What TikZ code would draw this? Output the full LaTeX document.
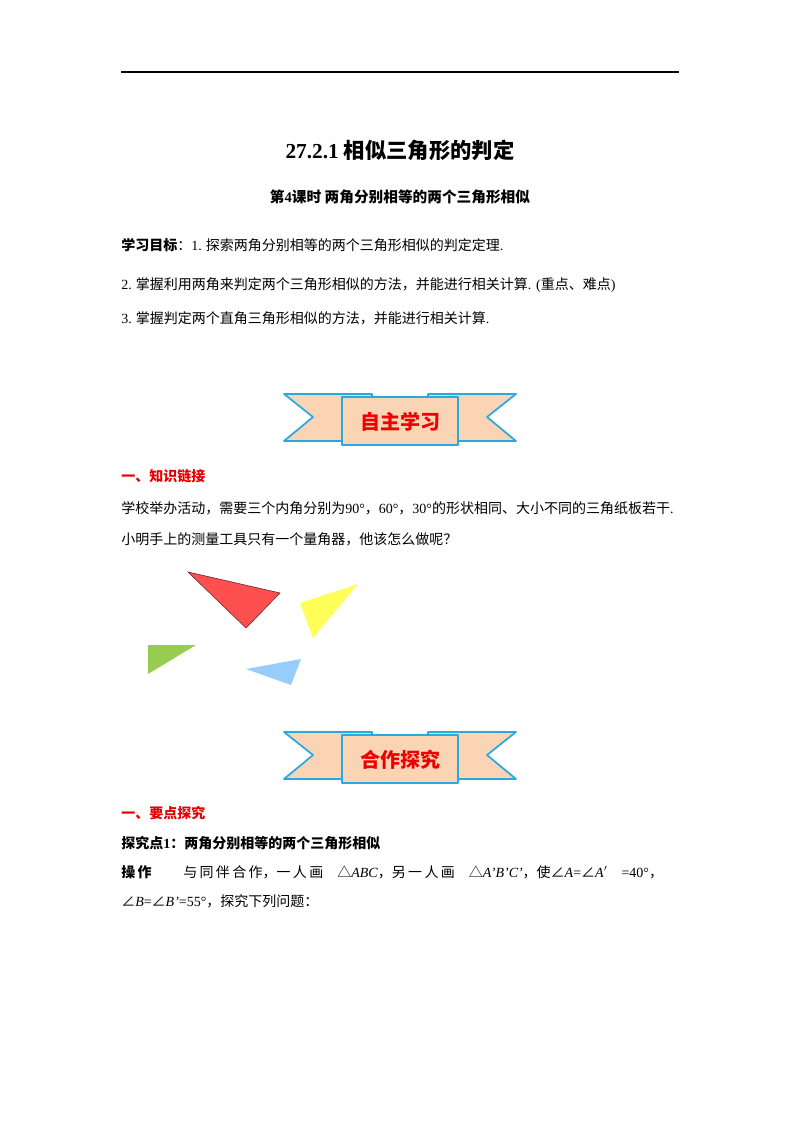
\documentclass[tikz,border=0pt]{standalone}
\usepackage{fontspec}
\setmainfont{Liberation Serif}
\newfontfamily\cjk{Noto Sans CJK SC}
\newcommand{\lt}[1]{{\rmfamily #1}}
\definecolor{hred}{RGB}{230,0,0}
\definecolor{bred}{RGB}{240,0,0}
\definecolor{ribf}{RGB}{250,212,180}
\definecolor{ribd}{RGB}{40,170,225}
\definecolor{tred}{RGB}{255,80,80}
\definecolor{tredd}{RGB}{110,50,50}
\definecolor{tyel}{RGB}{255,255,90}
\definecolor{tgrn}{RGB}{150,205,80}
\definecolor{tblu}{RGB}{150,205,250}
\begin{document}
\begin{tikzpicture}[x=0.75pt,y=-0.75pt]
\tikzset{txt/.style={anchor=west,inner sep=0pt,font=\cjk\fontsize{10.5}{12}\selectfont},
 redh/.style={txt,text=hred,font=\cjk\bfseries\fontsize{10.5}{12}\selectfont},
 bld/.style={txt,font=\cjk\bfseries\fontsize{10.5}{12}\selectfont},
 rib/.style={fill=ribf,draw=ribd,line width=1.3pt,line join=round}}
\useasboundingbox (0,0) rectangle (800,1132);
\draw[line width=0.8pt] (121,72) -- (679,72);
\node[inner sep=0pt,font=\cjk\bfseries\fontsize{16}{18}\selectfont] (title) at (400,150) {\lt{\textbf{27.2.1}} 相似三角形的判定};
\node[inner sep=0pt,font=\cjk\bfseries\fontsize{11}{13}\selectfont] (sub) at (400,197) {第\lt{\textbf{4}}课时\ 两角分别相等的两个三角形相似};
\node[txt] (g1) at (121,245) {{\bfseries 学习目标}：\lt{1.} 探索两角分别相等的两个三角形相似的判定定理\lt{.}};
\node[txt] (g2) at (121,285) {\lt{2.} 掌握利用两角来判定两个三角形相似的方法，并能进行相关计算\lt{. (}重点、难点\lt{)}};
\node[txt] (g3) at (121,318) {\lt{3.} 掌握判定两个直角三角形相似的方法，并能进行相关计算\lt{.}};
% banners
\foreach \yy/\tt/\nm in {393/自主学习/b1, 731/合作探究/b2}{
 \begin{scope}[yshift=-\yy*0.75pt]
 \draw[rib] (284,1) -- (372,1) -- (372,48) -- (284,48) -- (313,24) -- cycle;
 \draw[rib] (516,1) -- (428,1) -- (428,48) -- (516,48) -- (487,24) -- cycle;
 \draw[rib] (342,4) -- (458,4) -- (458,52) -- (342,52) -- cycle;
 \node[inner sep=0pt,text=bred,font=\cjk\bfseries\fontsize{15}{17}\selectfont] (\nm) at (400,29) {\tt};
 \end{scope}}
\node[redh] (h1) at (121,476) {一、知识链接};
\node[txt] (t1) at (121,508) {学校举办活动，需要三个内角分别为\lt{90°}，\lt{60°}，\lt{30°}的形状相同、大小不同的三角纸板若干\lt{.}};
\node[txt] (t2) at (121,539) {小明手上的测量工具只有一个量角器，他该怎么做呢？};
\filldraw[fill=tred,draw=tredd,line width=0.5pt] (188,572) -- (280,593) -- (246,628) -- cycle;
\fill[tyel] (300,603) -- (358,584) -- (313,638) -- cycle;
\fill[tgrn] (148,645) -- (196,645) -- (148,674) -- cycle;
\fill[tblu] (246,669) -- (301,659) -- (291,685) -- cycle;
\node[redh] (h2) at (121,813) {一、要点探究};
\node[bld] (p1) at (121,843) {探究点\lt{\textbf{1}}：两角分别相等的两个三角形相似};
\node[bld] (op) at (121,872) {操\,作};
\node[txt] (o1) at (183,872) {与\,同\,伴\,合\,作，一\,人\,画\quad △\lt{\textit{ABC}}，另\,一\,人\,画\quad △\lt{\textit{A'B'C'}}，使∠\lt{\textit{A}=}∠\lt{\textit{A}$'$\quad =40°}，};
\node[txt] (o2) at (121,901) {∠\lt{\textit{B}=}∠\lt{\textit{B'}=55°}，探究下列问题：};
\end{tikzpicture}
\end{document}
